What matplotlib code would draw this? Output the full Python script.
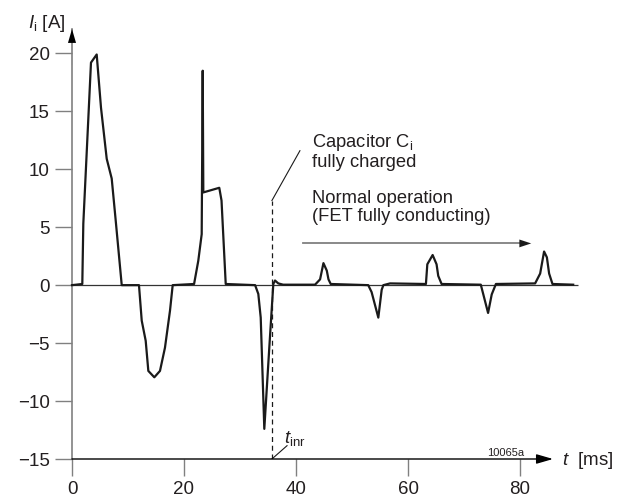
import matplotlib
matplotlib.use("Agg")
import matplotlib.pyplot as plt

plt.rcParams['font.family'] = ['Liberation Sans', 'DejaVu Sans']
plt.rcParams['mathtext.fontset'] = 'custom'
plt.rcParams['mathtext.rm'] = 'Liberation Sans'
plt.rcParams['mathtext.it'] = 'Liberation Sans:italic'
plt.rcParams['mathtext.bf'] = 'Liberation Sans:bold'

# ---- data ----
t_ms = [0, 1.84, 2.02, 3.39, 4.41, 5.18, 6.2, 7.09, 7.8, 8.88, 11.96, 12.45, 13.16,
        13.63, 14.7, 15.71, 16.6, 17.5, 17.98, 21.8, 22.55, 23.16, 23.34, 23.45,
        26.3, 26.7, 27.45, 32.7, 33.27, 33.7, 34.34, 35.23, 35.95, 36.25, 36.84,
        37.7, 43.4, 44.3, 44.9, 45.5, 45.8, 46.2, 52.9, 53.5, 54.7, 55.3, 55.6,
        56.8, 63.2, 63.45, 64.4, 65.1, 65.4, 66.0, 73.0, 73.45, 74.3, 74.95, 75.7,
        82.7, 83.6, 84.3, 84.8, 85.2, 85.8, 89.5]
current_A = [0, 0.1, 5.3, 19.2, 19.9, 15.3, 10.9, 9.2, 5.6, 0, 0, -3.06, -4.8,
             -7.4, -7.95, -7.4, -5.4, -2.2, 0, 0.1, 2.1, 4.4, 18.5, 8.0,
             8.4, 7.3, 0.1, 0, -0.76, -2.8, -12.4, -5.4, 0.1, 0.4, 0.15,
             0.04, 0.04, 0.5, 1.9, 1.25, 0.5, 0.1, 0, -0.6, -2.8, -0.4, 0,
             0.15, 0.1, 1.8, 2.6, 1.8, 0.8, 0.1, 0.04, -0.8, -2.4, -0.8, 0.1,
             0.15, 1.0, 2.9, 2.4, 1.0, 0.1, 0.04]
x_ticks = [0, 20, 40, 60, 80]
y_ticks = [-15, -10, -5, 0, 5, 10, 15, 20]
t_inr = 35.7

GREY = '#808080'
TXT = '#231f20'

fig = plt.figure(figsize=(6.26, 4.98), dpi=100)
ax = fig.add_axes([72/626, 1-459/498, 91*5.6/626, 430/498])
ax.set_xlim(0, 91)
ax.set_ylim(-15, 22.1)

for s in ['top', 'right', 'bottom']:
    ax.spines[s].set_visible(False)
ax.spines['left'].set_color(GREY)
ax.spines['left'].set_linewidth(1.2)

ax.set_xticks(x_ticks)
ax.set_yticks(y_ticks)
ax.set_yticklabels([str(v).replace('-', '\u2212') for v in y_ticks])
ax.tick_params(axis='both', direction='out', length=12.5, width=1.0, color=GREY,
               labelsize=13.5, labelcolor=TXT)
ax.tick_params(axis='x', pad=3.5)
ax.tick_params(axis='y', pad=3.5)

# zero line
ax.hlines(0, 0, 90.3, color='#333333', lw=0.9, zorder=2)

# curve
ax.plot(t_ms, current_A, color='#1a1a1a', lw=1.6, zorder=3, clip_on=False)

# axis arrows
ax.annotate('', xy=(85.9, -15), xytext=(0, -15), xycoords='data',
            arrowprops=dict(arrowstyle='-|>,head_length=10,head_width=2.9',
                            mutation_scale=1, color='black', lw=1.0,
                            shrinkA=0, shrinkB=0), annotation_clip=False)
ax.annotate('', xy=(0, 22.1), xytext=(0, 19), xycoords='data',
            arrowprops=dict(arrowstyle='-|>,head_length=10,head_width=2.9',
                            mutation_scale=1, color='black', lw=0.01,
                            shrinkA=0, shrinkB=0), annotation_clip=False)

# axis labels
ax.text(-7.86, 22.2, r'$I_{\mathrm{i}}$ [A]', fontsize=13.5, color=TXT,
        ha='left', va='baseline', clip_on=False)
ax.text(87.5, -15.55, r'$t$  [ms]', fontsize=13.5, color=TXT,
        ha='left', va='baseline', clip_on=False)
ax.text(80.7, -14.7, '10065a', fontsize=8, color=TXT, ha='right', va='baseline')

# t_inr marker
ax.plot([t_inr, t_inr], [-15, 7.3], color='#1a1a1a', lw=0.9, ls=(0, (4, 3)), zorder=2)
ax.plot([t_inr, 40.7], [7.3, 11.6], color='#1a1a1a', lw=0.8)
ax.plot([t_inr, 38.4], [-15, -13.85], color='#1a1a1a', lw=0.8)
ax.text(37.9, -13.6, r'$t_{\mathrm{inr}}$', fontsize=13.5, color=TXT,
        ha='left', va='baseline')

# annotations
ax.text(42.9, 11.95, r'Capacitor C$_{\mathrm{i}}$', fontsize=13.2, color=TXT,
        ha='left', va='baseline')
ax.text(42.9, 10.22, 'fully charged', fontsize=13.2, color=TXT,
        ha='left', va='baseline')
ax.text(42.9, 7.07, 'Normal operation', fontsize=13.2, color=TXT,
        ha='left', va='baseline')
ax.text(42.9, 5.57, '(FET fully conducting)', fontsize=13.2, color=TXT,
        ha='left', va='baseline')
ax.plot([41.25, 80.5], [3.6, 3.6], color=GREY, lw=1.3)
ax.annotate('', xy=(82, 3.6), xytext=(79.5, 3.6),
            arrowprops=dict(arrowstyle='-|>,head_length=8.5,head_width=2.8',
                            mutation_scale=1, color='#1a1a1a', lw=0.01,
                            shrinkA=0, shrinkB=0))

fig.savefig('out.png', dpi=100)
